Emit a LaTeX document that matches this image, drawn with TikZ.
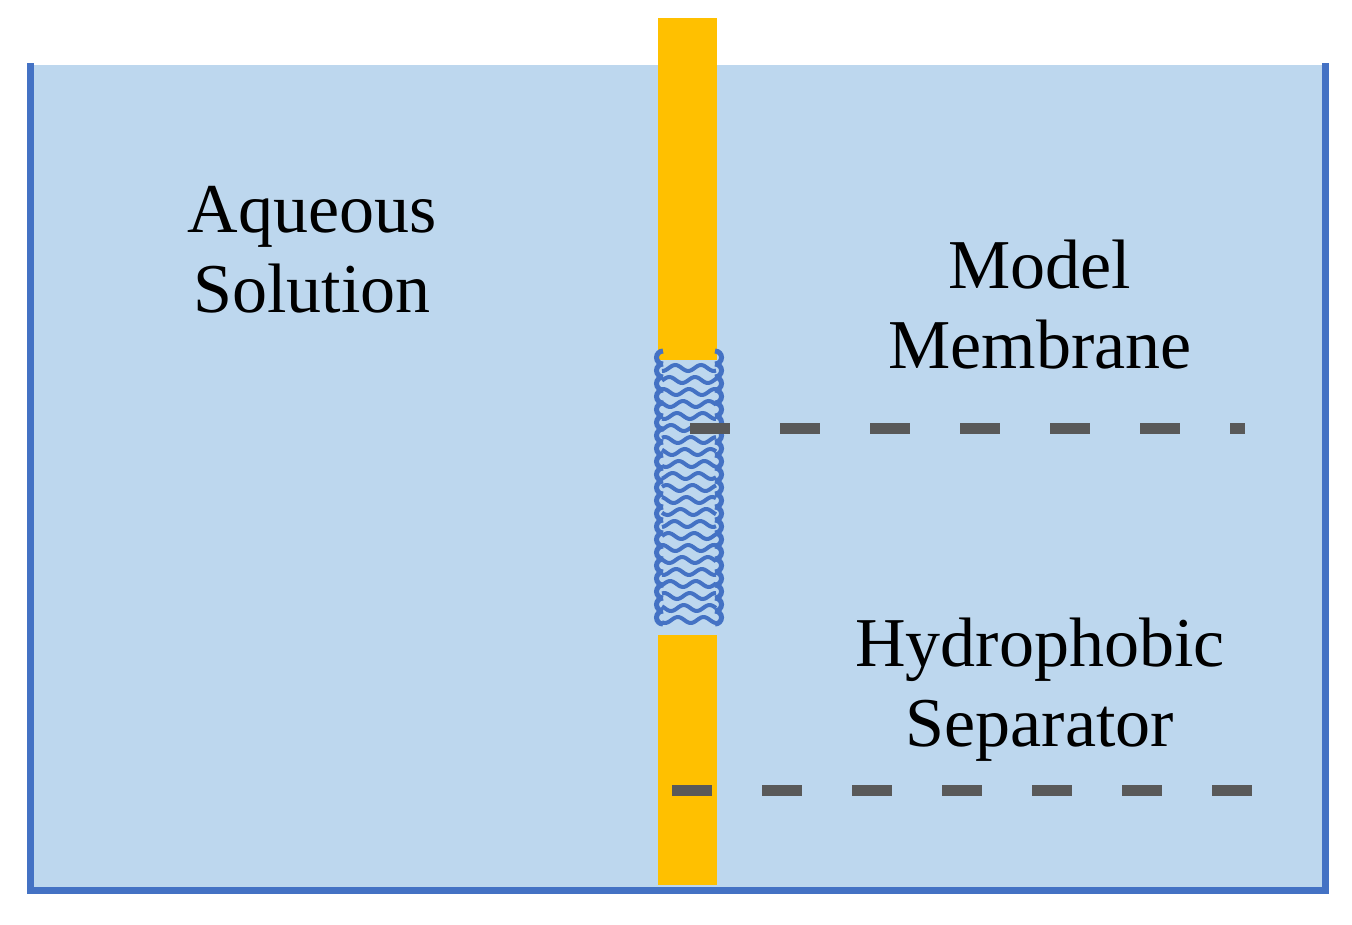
\documentclass[tikz,border=0pt]{standalone}
\usepackage{fontspec}
\setmainfont{Liberation Serif}
\begin{document}
\begin{tikzpicture}[x=1pt,y=-1pt,
  lbl/.style={font=\fontsize{70}{80}\selectfont,align=center,text=black},
  dsh/.style={draw=black!65,line width=11pt,dash pattern=on 40pt off 50pt},
  lip/.style={draw={rgb,255:red,68;green,114;blue,196},line width=4pt}]
\definecolor{water}{RGB}{189,215,238}
\definecolor{edge}{RGB}{68,114,196}
\definecolor{gold}{RGB}{255,192,0}
\useasboundingbox (0,0) rectangle (1352,924);
\fill[water] (30,65) rectangle (1325,890);
\draw[edge,line width=7pt] (30,63) -- (30,890) -- (1325,890) -- (1325,63);
\fill[gold] (658,18) rectangle (717,885);
\fill[water] (658,360) rectangle (720,635);
\foreach \y in {368,380,...,630} {
  \draw[lip] plot[domain=662:716,samples=30,smooth] (\x,{\y+3*sin(14*(\x-660)+\y*7)});
}
\foreach \y in {364,377,...,632} {
  \draw[lip,line width=5pt] (663,\y) arc[start angle=90,end angle=270,radius=6.5];
  \draw[lip,line width=5pt] (715,\y) arc[start angle=90,end angle=-90,radius=6.5];
}
\node[lbl] (aq) at (312,250) {Aqueous\\Solution};
\node[lbl] (mm) at (1040,305) {Model\\Membrane};
\node[lbl] (hs) at (1040,690) {Hydrophobic\\Separator};
\coordinate (d1a) at (690,428); \coordinate (d1b) at (1245,428);
\coordinate (d2a) at (672,790); \coordinate (d2b) at (1262,790);
\draw[dsh] (d1a) -- (d1b);
\draw[dsh] (d2a) -- (d2b);
\end{tikzpicture}
\end{document}
